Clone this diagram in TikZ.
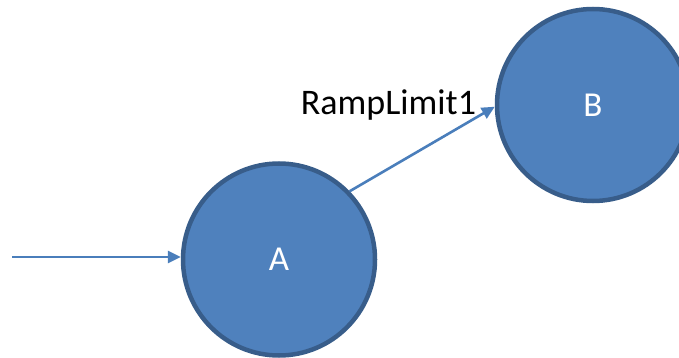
\documentclass[tikz,border=0pt]{standalone}
\usepackage{fontspec}
\setmainfont{Carlito}
\usetikzlibrary{arrows.meta}
\definecolor{nodefill}{HTML}{4F81BD}
\definecolor{nodeline}{HTML}{385D8A}
\definecolor{edgecol}{HTML}{4A7EBB}
\begin{document}
\begin{tikzpicture}[x=1pt,y=-1pt,
  statenode/.style={circle,fill=nodefill,draw=nodeline,line width=4.5pt,minimum size=192pt,inner sep=0pt,text=white,font=\fontsize{35}{42}\selectfont},
  edge/.style={draw=edgecol,line width=2.6pt,-{Triangle[length=13pt,width=12pt]}},
  lbl/.style={font=\fontsize{36}{42}\selectfont,text=black,inner sep=0pt,anchor=base}]
\useasboundingbox (0,0) rectangle (679,358);
\node[statenode] (A) at (279,259.5) {A};
\node[statenode] (B) at (593,105) {B};
\coordinate (s) at (12,257);
\draw[edge] (s) -- (A.west |- s);
\draw[edge] (A.44) -- (B.181);
\node[lbl] (l) at (388.5,115) {RampLimit1};
\end{tikzpicture}
\end{document}
